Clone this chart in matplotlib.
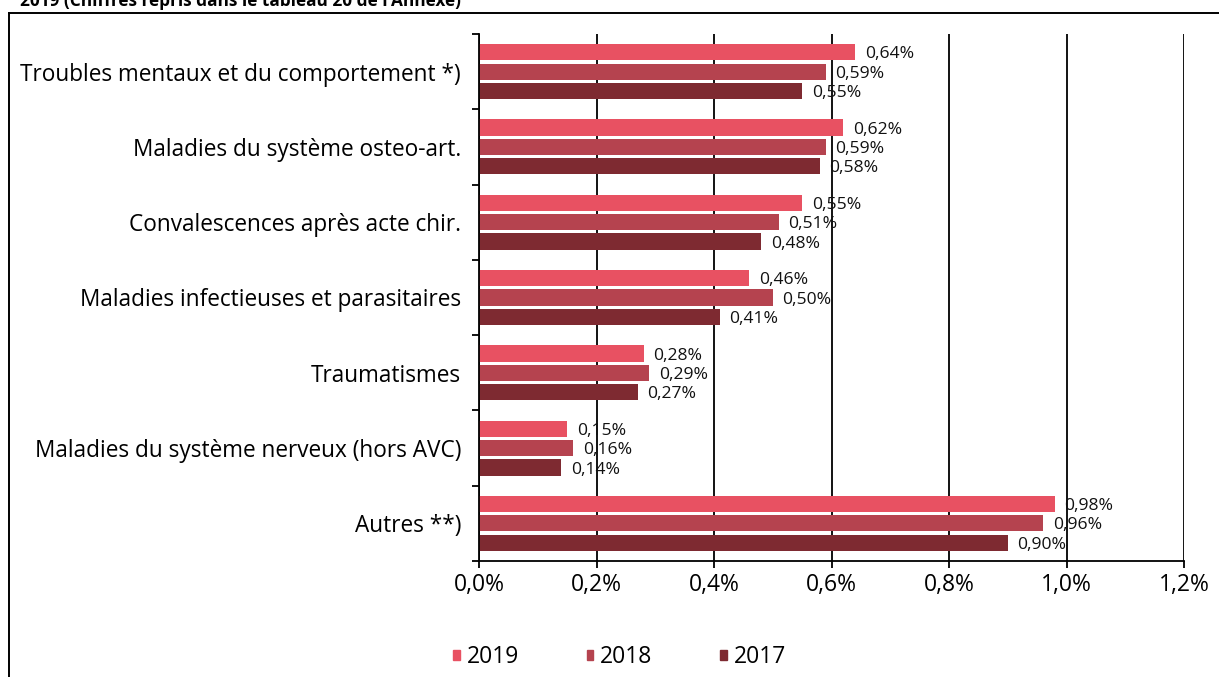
import matplotlib
matplotlib.use("Agg")
import matplotlib.pyplot as plt
import numpy as np
from matplotlib.patches import Rectangle
from matplotlib.lines import Line2D

plt.rcParams['font.family'] = ['Open Sans', 'DejaVu Sans']

categories = [
    "Troubles mentaux et du comportement *)",
    "Maladies du système osteo-art.",
    "Convalescences après acte chir.",
    "Maladies infectieuses et parasitaires",
    "Traumatismes",
    "Maladies du système nerveux (hors AVC)",
    "Autres **)",
]
years = ["2019", "2018", "2017"]
v2019 = [0.64, 0.62, 0.55, 0.46, 0.28, 0.15, 0.98]
v2018 = [0.59, 0.59, 0.51, 0.50, 0.29, 0.16, 0.96]
v2017 = [0.55, 0.58, 0.48, 0.41, 0.27, 0.14, 0.90]
series = [v2019, v2018, v2017]
colors = ["#E85162", "#B5434F", "#7E2A31"]
xticks = [0.0, 0.2, 0.4, 0.6, 0.8, 1.0, 1.2]

W, H = 1219, 677
fig = plt.figure(figsize=(W / 100, H / 100), dpi=100)
ax = fig.add_axes([479 / W, 1 - 561 / H, (1184 - 479) / W, (561 - 34) / H])

n = len(categories)
ypos = np.arange(n)
step = 0.257
bh = 0.215
for k, (vals, col) in enumerate(zip(series, colors)):
    y = ypos + (k - 1) * step
    ax.barh(y, vals, height=bh, color=col, zorder=3)
    for yy, v in zip(y, vals):
        ax.annotate(f"{v:.2f}%".replace(".", ","), (v, yy), xytext=(7, -1.5),
                    textcoords="offset points", va="center", ha="left",
                    fontsize=12.6, color="#111111", zorder=4)

ax.set_ylim(n - 0.5, -0.5)
ax.set_xlim(0, 1.2)
ax.set_xticks(xticks)
ax.set_xticklabels([f"{t:.1f}%".replace(".", ",") for t in xticks], fontsize=16.5)
ax.set_yticks(ypos)
ax.set_yticklabels(categories, fontsize=16.3)
ax.set_yticks(np.arange(n + 1) - 0.5, minor=True)
ax.tick_params(axis="y", which="major", length=0, pad=13)
ax.tick_params(axis="y", which="minor", length=5, width=1.3, direction="out")
ax.tick_params(axis="x", length=5, width=1.3, direction="out", pad=4)

ax.grid(axis="x", color="black", linewidth=1.3, zorder=1)
for s in ["top", "right"]:
    ax.spines[s].set_visible(False)
for s in ["left", "bottom"]:
    ax.spines[s].set_linewidth(1.3)
    ax.spines[s].set_zorder(5)

handles = [Rectangle((0, 0), 1, 1, color=c) for c in colors]
leg = fig.legend(handles, years, loc="center left", bbox_to_anchor=(453 / W, 1 - 657 / H),
                 ncol=3, frameon=False, fontsize=16.5, handlelength=0.3, handleheight=0.3,
                 handletextpad=0.3, columnspacing=2.95, borderaxespad=0, borderpad=0)

# outer frame (partially visible)
fig.add_artist(Line2D([8.5 / W, 8.5 / W], [0, 1 - 13 / H], color="black", linewidth=1.4,
                      transform=fig.transFigure))
fig.add_artist(Line2D([8.5 / W, 1.0], [1 - 13 / H, 1 - 13 / H], color="black", linewidth=1.4,
                      transform=fig.transFigure))
fig.text(20 / W, 1 - 6 / H, "2019 (Chiffres repris dans le tableau 20 de l'Annexe)",
         fontsize=12.4, fontweight="bold", va="baseline", ha="left")

fig.savefig("out.png", dpi=100)
